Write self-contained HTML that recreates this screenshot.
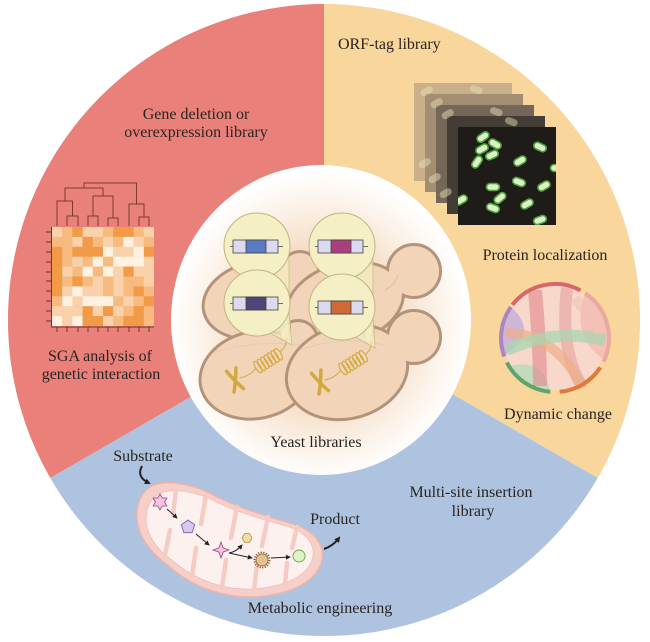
<!DOCTYPE html>
<html><head><meta charset="utf-8">
<style>
html,body{margin:0;padding:0;background:#fff;}
svg{display:block;}
text{font-family:"Liberation Serif","Times New Roman",serif;font-size:16px;fill:#2a2421;}
.D{fill:#f29a45}.M{fill:#f7bb7f}.L{fill:#f9d2ab}.W{fill:#fff2e2}
</style></head><body>
<svg width="650" height="642" viewBox="0 0 650 642" xmlns="http://www.w3.org/2000/svg">
<defs>
 <radialGradient id="glow" cx="0.5" cy="0.52" r="0.5">
  <stop offset="0" stop-color="#f0cfae"/>
  <stop offset="0.45" stop-color="#f3d9bf"/>
  <stop offset="0.8" stop-color="#fcf3ea"/>
  <stop offset="1" stop-color="#ffffff"/>
 </radialGradient>
 <clipPath id="front"><rect x="458" y="127" width="98" height="98"/></clipPath>
 <marker id="ah" viewBox="0 0 6 6" refX="5" refY="3" markerWidth="5" markerHeight="5" orient="auto"><path d="M0,0 L6,3 L0,6 Z" fill="#222"/></marker>
 <marker id="ah2" viewBox="0 0 6 6" refX="4" refY="3" markerWidth="3" markerHeight="3" orient="auto"><path d="M0,0 L6,3 L0,6 Z" fill="#222"/></marker>
</defs>

<!-- sectors -->
<path d="M324,320 L324,4 A316,316 0 0 0 50.3,478 Z" fill="#e9807a"/>
<path d="M324,320 L324,4 A316,316 0 0 1 597.7,478 Z" fill="#f8d69c"/>
<path d="M324,320 L50.3,478 A316,316 0 0 0 597.7,478 Z" fill="#aec3df"/>
<ellipse cx="321" cy="320" rx="150" ry="155" fill="url(#glow)"/>

<!-- heatmap -->
<g>
 <g transform="translate(0,227)"><rect class="L" x="52" width="10.4" height="10.1"/><rect class="M" x="62.2" width="10.4" height="10.1"/><rect class="D" x="72.4" width="10.4" height="10.1"/><rect class="L" x="82.6" width="10.4" height="10.1"/><rect class="L" x="92.8" width="10.4" height="10.1"/><rect class="M" x="103" width="10.4" height="10.1"/><rect class="D" x="113.2" width="10.4" height="10.1"/><rect class="D" x="123.4" width="10.4" height="10.1"/><rect class="M" x="133.6" width="10.4" height="10.1"/><rect class="L" x="143.8" width="10.2" height="10.1"/></g>
 <g transform="translate(0,236.9)"><rect class="M" x="52" width="10.4" height="10.1"/><rect class="M" x="62.2" width="10.4" height="10.1"/><rect class="L" x="72.4" width="10.4" height="10.1"/><rect class="D" x="82.6" width="10.4" height="10.1"/><rect class="M" x="92.8" width="10.4" height="10.1"/><rect class="L" x="103" width="10.4" height="10.1"/><rect class="M" x="113.2" width="10.4" height="10.1"/><rect class="W" x="123.4" width="10.4" height="10.1"/><rect class="L" x="133.6" width="10.4" height="10.1"/><rect class="M" x="143.8" width="10.2" height="10.1"/></g>
 <g transform="translate(0,246.8)"><rect class="D" x="52" width="10.4" height="10.1"/><rect class="M" x="62.2" width="10.4" height="10.1"/><rect class="D" x="72.4" width="10.4" height="10.1"/><rect class="D" x="82.6" width="10.4" height="10.1"/><rect class="D" x="92.8" width="10.4" height="10.1"/><rect class="W" x="103" width="10.4" height="10.1"/><rect class="L" x="113.2" width="10.4" height="10.1"/><rect class="L" x="123.4" width="10.4" height="10.1"/><rect class="W" x="133.6" width="10.4" height="10.1"/><rect class="D" x="143.8" width="10.2" height="10.1"/></g>
 <g transform="translate(0,256.7)"><rect class="D" x="52" width="10.4" height="10.1"/><rect class="M" x="62.2" width="10.4" height="10.1"/><rect class="L" x="72.4" width="10.4" height="10.1"/><rect class="M" x="82.6" width="10.4" height="10.1"/><rect class="W" x="92.8" width="10.4" height="10.1"/><rect class="M" x="103" width="10.4" height="10.1"/><rect class="W" x="113.2" width="10.4" height="10.1"/><rect class="W" x="123.4" width="10.4" height="10.1"/><rect class="W" x="133.6" width="10.4" height="10.1"/><rect class="L" x="143.8" width="10.2" height="10.1"/></g>
 <g transform="translate(0,266.6)"><rect class="D" x="52" width="10.4" height="10.1"/><rect class="L" x="62.2" width="10.4" height="10.1"/><rect class="M" x="72.4" width="10.4" height="10.1"/><rect class="W" x="82.6" width="10.4" height="10.1"/><rect class="M" x="92.8" width="10.4" height="10.1"/><rect class="W" x="103" width="10.4" height="10.1"/><rect class="L" x="113.2" width="10.4" height="10.1"/><rect class="D" x="123.4" width="10.4" height="10.1"/><rect class="L" x="133.6" width="10.4" height="10.1"/><rect class="L" x="143.8" width="10.2" height="10.1"/></g>
 <g transform="translate(0,276.5)"><rect class="D" x="52" width="10.4" height="10.1"/><rect class="M" x="62.2" width="10.4" height="10.1"/><rect class="D" x="72.4" width="10.4" height="10.1"/><rect class="M" x="82.6" width="10.4" height="10.1"/><rect class="L" x="92.8" width="10.4" height="10.1"/><rect class="M" x="103" width="10.4" height="10.1"/><rect class="L" x="113.2" width="10.4" height="10.1"/><rect class="M" x="123.4" width="10.4" height="10.1"/><rect class="M" x="133.6" width="10.4" height="10.1"/><rect class="L" x="143.8" width="10.2" height="10.1"/></g>
 <g transform="translate(0,286.4)"><rect class="D" x="52" width="10.4" height="10.1"/><rect class="L" x="62.2" width="10.4" height="10.1"/><rect class="W" x="72.4" width="10.4" height="10.1"/><rect class="L" x="82.6" width="10.4" height="10.1"/><rect class="L" x="92.8" width="10.4" height="10.1"/><rect class="M" x="103" width="10.4" height="10.1"/><rect class="L" x="113.2" width="10.4" height="10.1"/><rect class="M" x="123.4" width="10.4" height="10.1"/><rect class="D" x="133.6" width="10.4" height="10.1"/><rect class="M" x="143.8" width="10.2" height="10.1"/></g>
 <g transform="translate(0,296.3)"><rect class="M" x="52" width="10.4" height="10.1"/><rect class="W" x="62.2" width="10.4" height="10.1"/><rect class="L" x="72.4" width="10.4" height="10.1"/><rect class="W" x="82.6" width="10.4" height="10.1"/><rect class="W" x="92.8" width="10.4" height="10.1"/><rect class="W" x="103" width="10.4" height="10.1"/><rect class="M" x="113.2" width="10.4" height="10.1"/><rect class="L" x="123.4" width="10.4" height="10.1"/><rect class="M" x="133.6" width="10.4" height="10.1"/><rect class="D" x="143.8" width="10.2" height="10.1"/></g>
 <g transform="translate(0,306.2)"><rect class="L" x="52" width="10.4" height="10.1"/><rect class="L" x="62.2" width="10.4" height="10.1"/><rect class="L" x="72.4" width="10.4" height="10.1"/><rect class="D" x="82.6" width="10.4" height="10.1"/><rect class="L" x="92.8" width="10.4" height="10.1"/><rect class="D" x="103" width="10.4" height="10.1"/><rect class="L" x="113.2" width="10.4" height="10.1"/><rect class="M" x="123.4" width="10.4" height="10.1"/><rect class="D" x="133.6" width="10.4" height="10.1"/><rect class="M" x="143.8" width="10.2" height="10.1"/></g>
 <g transform="translate(0,316.1)"><rect class="W" x="52" width="10.4" height="10"/><rect class="L" x="62.2" width="10.4" height="10"/><rect class="W" x="72.4" width="10.4" height="10"/><rect class="D" x="82.6" width="10.4" height="10"/><rect class="D" x="92.8" width="10.4" height="10"/><rect class="L" x="103" width="10.4" height="10"/><rect class="M" x="113.2" width="10.4" height="10"/><rect class="D" x="123.4" width="10.4" height="10"/><rect class="D" x="133.6" width="10.4" height="10"/><rect class="M" x="143.8" width="10.2" height="10"/></g>
 <g stroke="#6b2f28" stroke-width="0.9" fill="none">
  <path d="M51.5,227 V327 H154"/>
  <path d="M46,232 H51.5 M46,242 H51.5 M46,252 H51.5 M46,262 H51.5 M46,272 H51.5 M46,281 H51.5 M46,291 H51.5 M46,301 H51.5 M46,311 H51.5 M46,321 H51.5"/>
  <path d="M57,327 V332 M67,327 V332 M78,327 V332 M88,327 V332 M98,327 V332 M108,327 V332 M118,327 V332 M129,327 V332 M139,327 V332 M149,327 V332"/>
 </g>
 <g stroke="#7b3b33" stroke-width="1" fill="none">
  <path d="M67,226 V216 H78 V226"/>
  <path d="M88,226 V216 H98 V226"/>
  <path d="M108,226 V218 H118 V226"/>
  <path d="M139,226 V217 H149 V226"/>
  <path d="M57,226 V201 H72.5 V216"/>
  <path d="M93,216 V196 H113 V218"/>
  <path d="M129,226 V204 H144 V217"/>
  <path d="M65,201 V188 H103 V196"/>
  <path d="M84,188 V183 H136.5 V204"/>
 </g>
</g>

<!-- microscopy stack -->
<rect x="414" y="83" width="98" height="98" fill="#c9b08b"/>
<rect x="425" y="94" width="98" height="98" fill="#a38e73"/>
<rect x="436" y="105" width="98" height="98" fill="#746758"/>
<rect x="447" y="116" width="98" height="98" fill="#443d36"/>
<g fill="#eee6b8" opacity="0.45">
 <rect x="420" y="88" width="13" height="7" rx="3.5" transform="rotate(-30 426 91)"/>
 <rect x="430" y="100" width="13" height="7" rx="3.5" transform="rotate(-30 436 103)"/>
 <rect x="441" y="111" width="13" height="7" rx="3.5" transform="rotate(-30 447 114)"/>
 <rect x="418" y="160" width="13" height="7" rx="3.5" transform="rotate(-30 424 163)"/>
 <rect x="428" y="175" width="13" height="7" rx="3.5" transform="rotate(-30 434 178)"/>
 <rect x="439" y="190" width="13" height="7" rx="3.5" transform="rotate(-30 445 193)"/>
 <rect x="470" y="86" width="13" height="7" rx="3.5" transform="rotate(20 476 89)"/>
 <rect x="490" y="108" width="13" height="7" rx="3.5" transform="rotate(20 496 111)"/>
 <rect x="505" y="118" width="13" height="7" rx="3.5" transform="rotate(20 511 121)"/>
</g>
<rect x="458" y="127" width="98" height="98" fill="#1e1b19"/>
<g clip-path="url(#front)" fill="#dcf1c6" stroke="#4fa33e" stroke-width="1.6">
 <rect x="476.5" y="133.5" width="13" height="7" rx="3.5" transform="rotate(-35 483 137)"/>
 <rect x="488.5" y="140.5" width="13" height="7" rx="3.5" transform="rotate(30 495 144)"/>
 <rect x="475.5" y="145.5" width="13" height="7" rx="3.5" transform="rotate(-30 482 149)"/>
 <rect x="485.5" y="151.5" width="13" height="7" rx="3.5" transform="rotate(-25 492 155)"/>
 <rect x="470.5" y="158.5" width="13" height="7" rx="3.5" transform="rotate(-55 477 162)"/>
 <rect x="533.5" y="143.5" width="13" height="7" rx="3.5" transform="rotate(25 540 147)"/>
 <rect x="513.5" y="157.5" width="13" height="7" rx="3.5" transform="rotate(-30 520 161)"/>
 <rect x="550.5" y="164.5" width="13" height="7" rx="3.5"/>
 <rect x="512.5" y="178.5" width="13" height="7" rx="3.5" transform="rotate(20 519 182)"/>
 <rect x="537.5" y="182.5" width="13" height="7" rx="3.5" transform="rotate(-30 544 186)"/>
 <rect x="486.5" y="183.5" width="13" height="7" rx="3.5"/>
 <rect x="493.5" y="194.5" width="13" height="7" rx="3.5" transform="rotate(-40 500 198)"/>
 <rect x="486.5" y="204.5" width="13" height="7" rx="3.5" transform="rotate(20 493 208)"/>
 <rect x="520.5" y="200.5" width="13" height="7" rx="3.5" transform="rotate(-30 527 204)"/>
 <rect x="454.5" y="196.5" width="13" height="7" rx="3.5" transform="rotate(-30 461 200)"/>
 <rect x="533.5" y="216.5" width="13" height="7" rx="3.5" transform="rotate(-20 540 220)"/>
</g>

<!-- chord diagram -->
<g transform="translate(555,338)">
 <circle r="52" fill="#f7d8cb"/>
 <path d="M30,-45 A54,54 0 0 1 50,22 Q15,0 30,-45 Z" fill="#f3b7ae" opacity="0.7"/>
 <path d="M-51,18 A54,54 0 0 1 -44,-31 Q-15,-5 -51,18 Z" fill="#c8b0da" opacity="0.85"/>
 <path d="M-5,54 A54,54 0 0 1 -45,28 Q-10,20 -5,54 Z" fill="#b2dbb8" opacity="0.75"/>
 <path d="M-20,-48 Q-15,10 -15,48" stroke="#e48e90" stroke-width="14" fill="none" opacity="0.65"/>
 <path d="M12,-50 Q5,10 25,45" stroke="#e69a9a" stroke-width="12" fill="none" opacity="0.55"/>
 <path d="M-50,-5 Q0,-5 28,50" stroke="#eeae86" stroke-width="10" fill="none" opacity="0.7"/>
 <path d="M-48,12 Q0,-10 50,2" stroke="#a9d6b2" stroke-width="12" fill="none" opacity="0.75"/>
 <path d="M20,-40 Q35,-20 45,-5" stroke="#f0c2b6" stroke-width="10" fill="none" opacity="0.6"/>
 <g fill="none" stroke-width="4">
  <path d="M-42.6,-33.2 A54,54 0 0 1 25.4,-47.7" stroke="#d9666a"/>
  <path d="M30.2,-44.8 A54,54 0 0 1 48.5,23.7" stroke="#eba9a0"/>
  <path d="M45.3,29.4 A54,54 0 0 1 4.7,53.8" stroke="#e07a3c"/>
  <path d="M-4.7,53.8 A54,54 0 0 1 -48.1,24.5" stroke="#5fa56a"/>
  <path d="M-50.7,18.5 A54,54 0 0 1 -44.2,-31" stroke="#a986c0"/>
 </g>
</g>

<!-- yeast cells -->
<g>
 <g stroke="#b3937a" stroke-width="6" fill="#f2d5b8">
  <ellipse cx="258" cy="300" rx="54" ry="37" transform="rotate(-12 258 300)"/>
  <circle cx="300" cy="270" r="17"/>
 </g>
 <g fill="#f2d5b8">
  <ellipse cx="258" cy="300" rx="54" ry="37" transform="rotate(-12 258 300)"/>
  <circle cx="300" cy="270" r="17"/>
 </g>
</g>
<g>
 <g stroke="#b3937a" stroke-width="6" fill="#f2d5b8">
  <ellipse cx="345" cy="303" rx="58" ry="38" transform="rotate(-15 345 303)"/>
  <circle cx="414" cy="271" r="25"/>
 </g>
 <g fill="#f2d5b8">
  <ellipse cx="345" cy="303" rx="58" ry="38" transform="rotate(-15 345 303)"/>
  <circle cx="414" cy="271" r="25"/>
 </g>
 <path d="M385,290 Q395,285 398,275" stroke="#dcbfa2" stroke-width="1" fill="none"/>
</g>
<g>
 <g stroke="#b3937a" stroke-width="6" fill="#f2d5b8">
  <ellipse cx="256" cy="375" rx="55" ry="42" transform="rotate(-12 256 375)"/>
  <circle cx="298" cy="340" r="18"/>
 </g>
 <g fill="#f2d5b8">
  <ellipse cx="256" cy="375" rx="55" ry="42" transform="rotate(-12 256 375)"/>
  <circle cx="298" cy="340" r="18"/>
 </g>
 <path d="M215,352 Q255,340 300,345" stroke="#e6cdb3" stroke-width="1.2" fill="none"/>
</g>
<g>
 <g stroke="#b3937a" stroke-width="6" fill="#f2d5b8">
  <ellipse cx="347" cy="372" rx="60" ry="45" transform="rotate(-15 347 372)"/>
  <circle cx="414" cy="337" r="25"/>
 </g>
 <g fill="#f2d5b8">
  <ellipse cx="347" cy="372" rx="60" ry="45" transform="rotate(-15 347 372)"/>
  <circle cx="414" cy="337" r="25"/>
 </g>
 <path d="M300,350 Q340,335 385,345" stroke="#e6cdb3" stroke-width="1.2" fill="none"/>
</g>

<!-- chromosomes & coils -->
<g stroke="#d3a83e" fill="none" stroke-linecap="round">
 <g transform="translate(235,380) rotate(-20)" stroke-width="3.5">
  <path d="M-5,-11 Q-1,0 5,11 M5,-11 Q1,0 -5,11"/>
 </g>
 <g transform="translate(320,382) rotate(-20)" stroke-width="3.5">
  <path d="M-5,-11 Q-1,0 5,11 M5,-11 Q1,0 -5,11"/>
 </g>
 <g stroke-width="1">
  <path d="M240,378 Q250,376 256,368"/>
  <path d="M280,352 Q288,345 286,336 Q292,330 290,322"/>
  <path d="M325,380 Q335,378 341,370"/>
  <path d="M366,354 Q374,347 370,338 Q376,332 373,322"/>
 </g>
 <g transform="translate(258,367) rotate(-32)" stroke-width="1.1">
  <ellipse cx="0" cy="0" rx="2.6" ry="6.5"/><ellipse cx="4" cy="0" rx="2.6" ry="6.5"/><ellipse cx="8" cy="0" rx="2.6" ry="6.5"/><ellipse cx="12" cy="0" rx="2.6" ry="6.5"/><ellipse cx="16" cy="0" rx="2.6" ry="6.5"/><ellipse cx="20" cy="0" rx="2.6" ry="6.5"/><ellipse cx="24" cy="0" rx="2.6" ry="6.5"/>
 </g>
 <g transform="translate(343,369) rotate(-32)" stroke-width="1.1">
  <ellipse cx="0" cy="0" rx="2.6" ry="6.5"/><ellipse cx="4" cy="0" rx="2.6" ry="6.5"/><ellipse cx="8" cy="0" rx="2.6" ry="6.5"/><ellipse cx="12" cy="0" rx="2.6" ry="6.5"/><ellipse cx="16" cy="0" rx="2.6" ry="6.5"/><ellipse cx="20" cy="0" rx="2.6" ry="6.5"/><ellipse cx="24" cy="0" rx="2.6" ry="6.5"/>
 </g>
</g>

<!-- magnifier funnels -->
<g fill="#f4eec3" fill-opacity="0.7" stroke="#c9bc86" stroke-width="0.8">
 <polygon points="268,277 289,256 289,338 282,340"/>
 <polygon points="353,277 373,256 373,341 366,343"/>
 <polygon points="270,333 289,313 292,345"/>
 <polygon points="355,337 373,318 375,348"/>
</g>
<g fill="#f4efc4" stroke="#c2b47f" stroke-width="1">
 <circle cx="257" cy="246" r="33"/>
 <circle cx="342" cy="246" r="33"/>
 <circle cx="257" cy="303" r="33"/>
 <circle cx="342" cy="307" r="33"/>
</g>
<g stroke="#444" stroke-width="0.8">
 <path d="M230,246.5 H283 M315,246.5 H368 M230,303.5 H283 M315,307.5 H368"/>
 <rect x="233" y="240" width="45" height="13" fill="#dbdaee"/>
 <rect x="246" y="240" width="20" height="13" fill="#5a7bc0"/>
 <rect x="318" y="240" width="45" height="13" fill="#dbdaee"/>
 <rect x="331" y="240" width="20" height="13" fill="#a8407f"/>
 <rect x="233" y="297" width="45" height="13" fill="#dbdaee"/>
 <rect x="246" y="297" width="20" height="13" fill="#4f4577"/>
 <rect x="318" y="301" width="45" height="13" fill="#dbdaee"/>
 <rect x="331" y="301" width="20" height="13" fill="#cf6a33"/>
</g>

<!-- mitochondrion -->
<path d="M150,487 C165,478 195,484 217,497 C240,508 265,516 290,523 C315,530 325,545 322,560 C318,580 295,592 265,596 C235,600 205,592 180,575 C160,560 140,545 137,520 C136,505 140,494 150,487 Z" fill="#f6cfc9" stroke="#eeb3aa" stroke-width="1.5"/>
<path d="M150,487 C165,478 195,484 217,497 C240,508 265,516 290,523 C315,530 325,545 322,560 C318,580 295,592 265,596 C235,600 205,592 180,575 C160,560 140,545 137,520 C136,505 140,494 150,487 Z" fill="#fdf1ef" stroke="#f0c0b9" stroke-width="1" transform="translate(230 540) scale(0.9 0.86) translate(-230 -540)"/>
<g stroke="#f5cbc4" stroke-width="4.5" stroke-linecap="round" fill="none">
 <path d="M176,490 L173,514"/>
 <path d="M206,495 L201,524"/>
 <path d="M237,507 L231,538"/>
 <path d="M268,517 L262,546"/>
 <path d="M297,527 L292,548"/>
 <path d="M165,555 L170,530"/>
 <path d="M192,576 L196,548"/>
 <path d="M222,588 L226,560"/>
 <path d="M254,590 L257,565"/>
 <path d="M285,584 L287,563"/>
</g>
<polygon points="160,494 162.3,498 166.9,498 164.6,502 166.9,506 162.3,506 160,510 157.7,506 153.1,506 155.4,502 153.1,498 157.7,498" fill="#f3c4dd" stroke="#a0457a" stroke-width="0.8"/>
<polygon points="188,520 194.7,524.8 192.1,532.7 183.9,532.7 181.3,524.8" fill="#d8c8ee" stroke="#6f5a9f" stroke-width="0.8"/>
<polygon points="221,542 223.1,547.9 229,550 223.1,552.1 221,558 218.9,552.1 213,550 218.9,547.9" fill="#f3c4dd" stroke="#a0457a" stroke-width="0.8"/>
<polygon points="252,538 249.5,542.3 244.5,542.3 242,538 244.5,533.7 249.5,533.7" fill="#f3dfa6" stroke="#b08f3e" stroke-width="0.8"/>
<circle cx="262" cy="560" r="7.5" fill="none" stroke="#8c6134" stroke-width="2" stroke-dasharray="1.2 1.4"/>
<circle cx="262" cy="560" r="6" fill="#e5c28f" stroke="#8c6134" stroke-width="0.8"/>
<circle cx="299" cy="556" r="6" fill="#dff3c5" stroke="#6aa64e" stroke-width="0.9"/>
<g stroke="#222" stroke-width="1" fill="none">
 <path d="M167,509 L177,518" marker-end="url(#ah)"/>
 <path d="M196,534 L209,545" marker-end="url(#ah)"/>
 <path d="M229,553 Q236,552 242,545" marker-end="url(#ah)"/>
 <path d="M229,553 L252,558" marker-end="url(#ah)"/>
 <path d="M271,558 L290,557" marker-end="url(#ah)"/>
</g>
<g stroke="#222" stroke-width="2" fill="none">
 <path d="M142,466 Q136,477 149,483" marker-end="url(#ah2)"/>
 <path d="M324,549 Q333,546 339,538" marker-end="url(#ah2)"/>
</g>

<!-- labels -->
<text x="196" y="119" text-anchor="middle">Gene deletion or</text>
<text x="196" y="137" text-anchor="middle">overexpression library</text>
<text x="338" y="49">ORF-tag library</text>
<text x="545" y="260" text-anchor="middle">Protein localization</text>
<text x="100" y="361" text-anchor="middle">SGA analysis of</text>
<text x="101" y="379" text-anchor="middle">genetic interaction</text>
<text x="558" y="419" text-anchor="middle">Dynamic change</text>
<text x="316" y="447" text-anchor="middle">Yeast libraries</text>
<text x="143" y="461" text-anchor="middle">Substrate</text>
<text x="335" y="524" text-anchor="middle">Product</text>
<text x="471" y="497" text-anchor="middle">Multi-site insertion</text>
<text x="473" y="516" text-anchor="middle">library</text>
<text x="320" y="613" text-anchor="middle">Metabolic engineering</text>
</svg>
</body></html>
